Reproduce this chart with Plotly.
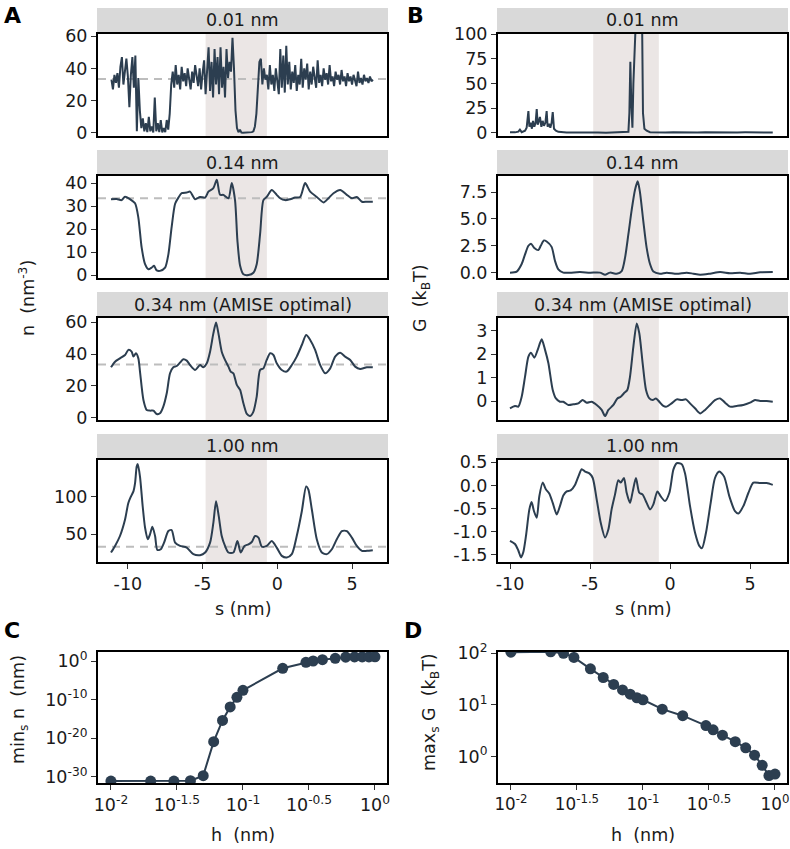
import plotly.graph_objects as go

# ---------------- data ----------------
H_LABELS = ["0.01 nm", "0.14 nm", "0.34 nm (AMISE optimal)", "1.00 nm"]
N_BULK = 33.4
BAND = [-4.8, -0.7]

S_A1 = [-11.1, -11.0, -10.9, -10.8, -10.7, -10.6, -10.5, -10.4, -10.3, -10.2,
        -10.1, -10.0, -9.9, -9.8, -9.7, -9.6, -9.5, -9.4, -9.3, -9.2,
        -9.1, -9.0, -8.9, -8.8, -8.7, -8.6, -8.5, -8.4, -8.3, -8.2,
        -8.1, -8.0, -7.9, -7.8, -7.7, -7.6, -7.5, -7.4, -7.3, -7.2,
        -7.1, -7.0, -6.9, -6.8, -6.7, -6.6, -6.5, -6.4, -6.3, -6.2,
        -6.1, -6.0, -5.9, -5.8, -5.7, -5.6, -5.5, -5.4, -5.3, -5.2,
        -5.1, -5.0, -4.9, -4.8, -4.7, -4.6, -4.5, -4.4, -4.3, -4.2,
        -4.1, -4.0, -3.9, -3.8, -3.7, -3.6, -3.5, -3.4, -3.3, -3.2,
        -3.1, -3.0, -2.9, -2.8, -2.7, -2.6, -2.5, -2.4, -2.3, -2.2,
        -2.1, -2.0, -1.9, -1.8, -1.7, -1.6, -1.5, -1.4, -1.3, -1.2,
        -1.1, -1.0, -0.9, -0.8, -0.7, -0.6, -0.5, -0.4, -0.3, -0.2,
        -0.1, 0.0, 0.1, 0.2, 0.3, 0.4, 0.5, 0.6, 0.7, 0.8,
        0.9, 1.0, 1.1, 1.2, 1.3, 1.4, 1.5, 1.6, 1.7, 1.8,
        1.9, 2.0, 2.1, 2.2, 2.3, 2.4, 2.5, 2.6, 2.7, 2.8,
        2.9, 3.0, 3.1, 3.2, 3.3, 3.4, 3.5, 3.6, 3.7, 3.8,
        3.9, 4.0, 4.1, 4.2, 4.3, 4.4, 4.5, 4.6, 4.7, 4.8,
        4.9, 5.0, 5.1, 5.2, 5.3, 5.4, 5.5, 5.6, 5.7, 5.8,
        5.9, 6.0, 6.1, 6.2, 6.3, 6.4]
N_A1 = [33, 27, 36, 31, 37, 28, 41, 47, 30, 38,
        46, 35, 16, 36, 47, 28, 48, 1, 34, 14,
        3, 9, 1, 6, 0.5, 10, 1, 4, 0.3, 22,
        1, 6, 0.5, 8, 0.3, 3, 0.5, 8, 2, 12,
        30, 38, 28, 42, 30, 36, 27, 41, 32, 37,
        29, 40, 33, 27, 38, 31, 42, 34, 29, 40,
        27, 37, 45, 24, 39, 53, 26, 44, 22, 52,
        30, 47, 24, 53, 28, 41, 22, 52, 34, 44,
        38, 59, 40, 14, 3, 0.5, 2, 0.2, 0.1, 0.1,
        0.1, 0.1, 0.1, 0.1, 0.5, 1, 4, 12, 28, 44,
        46, 30, 40, 33, 36, 27, 42, 30, 36, 26,
        40, 32, 24, 52, 28, 48, 25, 54, 30, 44,
        27, 38, 31, 42, 26, 36, 30, 46, 28, 40,
        33, 43, 27, 38, 30, 41, 33, 28, 45, 31,
        36, 29, 40, 33, 37, 30, 42, 32, 35, 29,
        38, 33, 36, 30, 39, 32, 35, 29, 37, 32,
        35, 30, 36, 33, 29, 38, 31, 34, 30, 36,
        32, 34, 31, 35, 32, 33]

S_A2 = [-11.13, -10.75, -10.42, -10.19, -9.86, -9.52, -9.30, -9.08, -8.85, -8.63,
        -8.41, -8.25, -8.07, -7.85, -7.51, -7.29, -7.07, -6.84, -6.62, -6.40,
        -6.06, -5.84, -5.50, -5.17, -4.83, -4.61, -4.28, -4.05, -3.83, -3.61,
        -3.27, -3.05, -2.83, -2.67, -2.49, -2.27, -1.93, -1.60, -1.38, -1.15,
        -0.93, -0.71, -0.37, -0.04, 0.19, 0.52, 0.86, 1.19, 1.53, 1.86,
        2.20, 2.64, 3.09, 3.42, 3.76, 4.21, 4.65, 4.99, 5.32, 5.66,
        5.99, 6.39]
N_A2 = [33, 33.1, 32.6, 34.1, 33, 31.2, 25, 12, 4.7, 2.5,
        3.2, 4, 2, 1.8, 3.2, 9, 21, 31, 33.7, 35.6,
        35.9, 36.3, 33, 34, 33.7, 36.3, 37.8, 41.5, 34.9, 34.9,
        33.4, 40, 32.6, 15, 4, 0.3, 0, 1, 4.7, 18,
        32.6, 34, 37, 34.9, 33.4, 32.6, 33, 33.7, 34, 40,
        36.3, 34, 31.6, 33.4, 35.6, 37, 34.9, 33.4, 34, 31.9,
        31.9, 31.9]

S_A3 = [-11.13, -10.86, -10.53, -10.19, -9.97, -9.75, -9.63, -9.46, -9.30, -9.19,
        -8.96, -8.74, -8.52, -8.29, -8.07, -7.85, -7.63, -7.40, -7.18, -6.96,
        -6.73, -6.51, -6.29, -6.06, -5.84, -5.50, -5.17, -4.95, -4.72, -4.50,
        -4.28, -4.10, -3.94, -3.72, -3.50, -3.27, -3.12, -2.94, -2.71, -2.49,
        -2.27, -2.04, -1.82, -1.60, -1.38, -1.15, -0.93, -0.71, -0.48, -0.26,
        -0.04, 0.30, 0.63, 0.97, 1.30, 1.64, 1.93, 2.20, 2.53, 2.87,
        3.20, 3.54, 3.87, 4.21, 4.54, 4.88, 5.21, 5.54, 5.99, 6.39]
N_A3 = [31.7, 35.2, 37.3, 39.4, 42.6, 41.5, 38.4, 40.5, 37.3, 29,
        11.1, 4.8, 4.4, 4.4, 2.3, 2.7, 6.9, 15.3, 27.9, 31.7,
        32.5, 34.6, 36.7, 35.9, 33.1, 30, 33.1, 31.7, 34.2, 41.5,
        53, 59.8, 53, 41.5, 36.3, 32.1, 29, 27.9, 20.6, 17.4,
        9, 2.3, 1, 3.8, 13.2, 30, 31, 36.3, 40.5, 39.4,
        34.2, 30, 29, 33.1, 38.4, 45.7, 52, 48.9, 42.6, 33.1,
        27.9, 31, 38.4, 40.9, 38.4, 36.3, 32.1, 30.6, 31.7, 31.7]

S_A4 = [-11.13, -10.86, -10.53, -10.19, -9.97, -9.79, -9.63, -9.52, -9.41, -9.34,
        -9.19, -9.01, -8.85, -8.67, -8.52, -8.36, -8.18, -8.03, -7.80, -7.58,
        -7.29, -7.07, -6.84, -6.51, -6.06, -5.62, -5.17, -4.83, -4.50, -4.28,
        -4.10, -3.92, -3.72, -3.50, -3.27, -2.94, -2.67, -2.45, -2.20, -1.93,
        -1.71, -1.49, -1.26, -1.04, -0.71, -0.37, -0.04, 0.30, 0.63, 0.97,
        1.30, 1.64, 1.93, 2.08, 2.31, 2.64, 2.98, 3.31, 3.65, 3.98,
        4.32, 4.65, 4.99, 5.32, 5.66, 5.99, 6.39]
N_A4 = [25.7, 34.5, 47.8, 69.9, 92, 100.9, 107.5, 118.6, 140.7, 144.2,
        127.4, 87.6, 58.8, 43.4, 50, 60.2, 47.8, 29.2, 30.1, 38.9,
        54.4, 55.8, 38.9, 34.5, 32.3, 23.5, 22.1, 25.7, 38.9, 65.5,
        94.2, 74.3, 47.8, 34.5, 25.7, 25.7, 41.2, 25.7, 34.5, 36.7,
        39.8, 47.8, 45.6, 33.6, 34.5, 41.2, 32.3, 21.2, 19, 23.5,
        47.8, 81, 114.2, 109.7, 83.2, 43.4, 25.7, 23.5, 30.1, 43.4,
        54.4, 54.4, 45.6, 34.5, 27.9, 27.9, 28.8]

S_B1 = [-10.0, -9.69, -9.48, -9.38, -9.27, -9.06, -8.96, -8.85, -8.79, -8.71,
        -8.63, -8.56, -8.48, -8.40, -8.33, -8.27, -8.19, -8.13, -8.04, -7.96,
        -7.88, -7.79, -7.71, -7.65, -7.56, -7.48, -7.40, -7.33, -7.25, -7.13,
        -6.98, -6.77, -6.46, -6.0, -5.5, -5.0, -4.5, -4.0, -3.5, -3.0,
        -2.70, -2.60, -2.54, -2.48, -2.42, -2.35, -2.29, -2.23, -1.98, -1.75,
        -1.69, -1.60, -1.46, -1.25, -0.8, -0.3, 0.2, 0.7, 1.2, 1.7,
        2.2, 2.7, 3.2, 3.7, 4.2, 4.7, 5.2, 5.7, 6.2, 6.42]
G_B1 = [0.5, 0.3, 1, 3, 0.5, 2, 5, 22, 6, 10,
        4, 12, 6, 10, 24, 8, 12, 16, 6, 12,
        7, 10, 22, 6, 9, 5, 10, 21, 4, 2,
        0.8, 0.3, 0.2, 0.1, 0.3, 0.1, 0.2, 0, 0.2, 0.3,
        0.5, 1, 20, 72, 30, 5, 50, 120, 180, 120,
        20, 4, 2, 0.5, 0.2, 0.1, 0.3, 0, 0.2, 0.1,
        0.3, 0.1, 0.2, 0, 0.2, 0.3, 0.1, 0.2, 0.1, 0.2]

S_B2 = [-10.0, -9.58, -9.27, -9.06, -8.85, -8.69, -8.48, -8.23, -8.08, -7.88,
        -7.71, -7.40, -7.19, -6.98, -6.67, -6.25, -5.63, -5.0, -4.38, -4.06,
        -3.75, -3.33, -3.02, -2.81, -2.60, -2.40, -2.19, -2.02, -1.88, -1.67,
        -1.46, -1.25, -1.04, -0.63, -0.21, 0.42, 1.04, 1.46, 1.88, 2.5,
        3.13, 3.75, 4.38, 5.0, 5.63, 6.42]
G_B2 = [0, 0.1, 0.8, 1.7, 2.5, 2.7, 2.3, 2.1, 2.5, 3.0,
        2.9, 2.4, 1.1, 0.3, 0, 0, 0.05, 0, 0, -0.2,
        0, -0.1, 0.15, 1.4, 3.6, 5.8, 7.7, 8.5, 7.5, 4.8,
        2.3, 0.8, 0.1, -0.1, 0, -0.1, 0, -0.1, -0.2, -0.1,
        0.05, -0.05, 0, -0.1, 0.03, 0.05]

S_B3 = [-10.0, -9.69, -9.48, -9.27, -9.06, -8.85, -8.69, -8.48, -8.27, -8.02,
        -7.81, -7.60, -7.33, -7.13, -6.88, -6.67, -6.35, -6.04, -5.73, -5.46,
        -5.21, -4.90, -4.58, -4.27, -4.06, -3.85, -3.54, -3.29, -3.08, -2.88,
        -2.67, -2.50, -2.29, -2.08, -1.92, -1.71, -1.50, -1.29, -1.08, -0.88,
        -0.67, -0.42, -0.21, 0.10, 0.42, 0.73, 1.0, 1.25, 1.56, 1.88,
        2.19, 2.5, 2.81, 3.13, 3.44, 3.75, 4.17, 4.58, 5.0, 5.31,
        5.63, 6.04, 6.42]
G_B3 = [-0.31, -0.21, -0.24, 0.18, 1.04, 1.89, 2.06, 1.85, 2.18, 2.63,
        2.18, 1.61, 0.47, 0.11, -0.03, -0.03, -0.17, -0.14, -0.1, 0.04,
        -0.07, -0.03, -0.17, -0.38, -0.64, -0.38, -0.17, 0.11, 0.18, 0.33,
        0.47, 1.04, 2.32, 3.31, 2.89, 1.61, 0.47, 0.11, 0.04, 0.11,
        -0.03, -0.21, -0.24, -0.1, 0.07, 0.04, 0.07, -0.1, -0.31, -0.53,
        -0.38, -0.17, 0.04, 0.11, -0.07, -0.24, -0.21, -0.17, -0.07, 0.04,
        0, 0, -0.03]

S_B4 = [-10.0, -9.69, -9.48, -9.31, -9.17, -9.0, -8.79, -8.65, -8.5, -8.33,
        -8.17, -7.96, -7.75, -7.54, -7.33, -7.08, -6.88, -6.67, -6.46, -6.21,
        -5.94, -5.73, -5.52, -5.31, -5.04, -4.83, -4.58, -4.33, -4.06, -3.85,
        -3.65, -3.44, -3.23, -3.08, -2.88, -2.71, -2.5, -2.33, -2.13, -1.92,
        -1.71, -1.46, -1.25, -1.04, -0.79, -0.58, -0.31, -0.04, 0.21, 0.42,
        0.73, 0.94, 1.25, 1.56, 1.83, 2.0, 2.25, 2.54, 2.81, 3.08,
        3.38, 3.71, 4.06, 4.27, 4.58, 4.9, 5.21, 5.63, 6.04, 6.42]
G_B4 = [-1.2, -1.27, -1.41, -1.56, -1.45, -1.09, -0.52, -0.36, -0.56, -0.7,
        -0.24, 0.06, -0.09, -0.18, -0.38, -0.63, -0.45, -0.22, -0.13, -0.11,
        0.01, 0.19, 0.35, 0.3, 0.26, 0.16, -0.31, -0.81, -1.13, -0.95,
        -0.52, -0.2, 0.11, 0.06, 0.16, -0.16, -0.38, -0.13, 0.16, -0.16,
        -0.2, -0.38, -0.52, -0.41, -0.13, -0.24, -0.34, -0.16, 0.34, 0.48,
        0.46, 0.26, -0.45, -1.02, -1.31, -1.36, -1.02, -0.38, 0.16, 0.3,
        0.19, -0.24, -0.56, -0.61, -0.45, -0.16, 0.06, 0.05, 0.05, 0.01]

H_C = [0.01, 0.02, 0.03, 0.04, 0.05, 0.06, 0.07, 0.08, 0.09, 0.1,
       0.2, 0.3, 0.34, 0.4, 0.5, 0.6, 0.7, 0.8, 0.9, 1.0]
MIN_N = [8e-32, 8e-32, 8e-32, 1e-31, 2e-30, 1.3e-21, 4e-16, 1.3e-12, 4e-10, 2.5e-8,
         1.3e-2, 0.46, 1.0, 2.2, 4.9, 10, 11, 11, 11.5, 12]

H_D = [0.01, 0.02, 0.025, 0.03, 0.04, 0.05, 0.06, 0.07, 0.08, 0.09, 0.1,
       0.14, 0.2, 0.3, 0.34, 0.4, 0.5, 0.6, 0.7, 0.8, 0.9, 1.0]
MAX_G = [105, 107, 100, 83, 50, 34, 25, 19.5, 16.2, 13.8, 12.6,
         8.3, 6.2, 4.0, 3.3, 2.6, 1.95, 1.48, 1.07, 0.68, 0.43, 0.46]

N_TICKS = [[0, 20, 40, 60], [0, 10, 20, 30, 40], [0, 20, 40, 60], [50, 100]]
G_TICKS = [[0, 25, 50, 75, 100], [0.0, 2.5, 5.0, 7.5], [0, 1, 2, 3], [-1.5, -1.0, -0.5, 0.0, 0.5]]
G_TICKTEXT = [["0", "25", "50", "75", "100"], ["0.0", "2.5", "5.0", "7.5"], ["0", "1", "2", "3"],
              ["-1.5", "-1.0", "-0.5", "0.0", "0.5"]]
S_TICKS = [-10, -5, 0, 5]
S_TICKTEXT = ["-10", "-5", "0", "5"]

# ---------------- styling / layout ----------------
W, H = 790, 849
FONT = "DejaVu Sans"
FS = 17.5
LINE = "#2c3e50"
STRIP = "#d9d9d9"
BANDC = "#ebe6e5"
TXT = "#1a1a1a"

COLS = [(98, 387), (498, 787)]
ROWS = [(34, 136), (176, 278), (318, 420), (460, 562)]
BOTTOM = (652, 783)
STRIP_H = 26

N_RANGES = [[-1.9, 61.3], [-1.3, 43.1], [-1.5, 62.7], [13, 149.5]]
G_RANGES = [[-3.4, 100.3], [-0.5, 9.0], [-0.81, 3.54], [-1.66, 0.55]]
X_RANGES = [[-12.0, 7.34], [-10.75, 7.31]]


def xd(a, b):
    return [a / W, b / W]


def yd(top, bot):
    return [1 - bot / H, 1 - top / H]


def px_x(x):
    return x / W


def px_y(y):
    return 1 - y / H


def axis(**kw):
    d = dict(showline=True, mirror=True, linecolor="black", linewidth=2,
             showgrid=False, zeroline=False, ticks="outside", ticklen=5,
             tickwidth=1, tickcolor="#333333", automargin=False,
             tickfont=dict(family=FONT, size=FS, color=TXT), fixedrange=True)
    d.update(kw)
    return d


fig = go.Figure()
layout = dict(width=W, height=H, margin=dict(l=0, r=0, t=0, b=0, autoexpand=False),
              paper_bgcolor="white", plot_bgcolor="white", showlegend=False,
              font=dict(family=FONT, size=FS, color=TXT))
shapes = []
annotations = []

profiles_n = [(S_A1, N_A1), (S_A2, N_A2), (S_A3, N_A3), (S_A4, N_A4)]
profiles_g = [(S_B1, G_B1), (S_B2, G_B2), (S_B3, G_B3), (S_B4, G_B4)]

for r in range(4):
    for c in range(2):
        k = r * 2 + c + 1
        xn = "x" if k == 1 else f"x{k}"
        yn = "y" if k == 1 else f"y{k}"
        xa = "xaxis" if k == 1 else f"xaxis{k}"
        ya = "yaxis" if k == 1 else f"yaxis{k}"
        s, v = (profiles_n if c == 0 else profiles_g)[r]
        noisy = (r == 0)
        fig.add_trace(go.Scatter(
            x=s, y=v, mode="lines", xaxis=xn, yaxis=yn,
            line=dict(color=LINE, width=2,
                      shape="linear" if noisy else "spline",
                      smoothing=0.7 if not noisy else None),
            hoverinfo="skip"))
        last = (r == 3)
        layout[xa] = axis(domain=xd(*COLS[c]), range=X_RANGES[c], anchor=yn,
                          tickvals=S_TICKS, ticktext=S_TICKTEXT,
                          ticks="outside" if last else "", showticklabels=last)
        if c == 0:
            layout[ya] = axis(domain=yd(*ROWS[r]), range=N_RANGES[r], anchor=xn,
                              tickvals=N_TICKS[r], ticktext=[str(t) for t in N_TICKS[r]])
        else:
            layout[ya] = axis(domain=yd(*ROWS[r]), range=G_RANGES[r], anchor=xn,
                              tickvals=G_TICKS[r], ticktext=G_TICKTEXT[r])
        # shaded band
        shapes.append(dict(type="rect", xref=xn, yref=f"{yn} domain",
                           x0=BAND[0], x1=BAND[1], y0=0, y1=1,
                           fillcolor=BANDC, line=dict(width=0), layer="below"))
        if c == 0:
            shapes.append(dict(type="line", xref=f"{xn} domain", yref=yn,
                               x0=0, x1=1, y0=N_BULK, y1=N_BULK,
                               line=dict(color="#bdbdbd", width=2, dash="8px,6px"),
                               layer="below"))
        # strip
        top = ROWS[r][0]
        shapes.append(dict(type="rect", xref="paper", yref="paper",
                           x0=px_x(COLS[c][0] - 1), x1=px_x(COLS[c][1] + 1),
                           y0=px_y(top), y1=px_y(top - STRIP_H),
                           fillcolor=STRIP, line=dict(width=0), layer="below"))
        annotations.append(dict(text=H_LABELS[r], xref="paper", yref="paper",
                                x=px_x((COLS[c][0] + COLS[c][1]) / 2),
                                y=px_y(top - STRIP_H / 2 - 0.5),
                                xanchor="center", yanchor="middle", showarrow=False,
                                font=dict(family=FONT, size=FS, color=TXT)))

# log panels
LOG_XT = [0.01, 10 ** -1.5, 0.1, 10 ** -0.5, 1]
LOG_XTT = ["10<sup>-2</sup>", "10<sup>-1.5</sup>", "10<sup>-1</sup>",
           "10<sup>-0.5</sup>", "10<sup>0</sup>"]

fig.add_trace(go.Scatter(x=H_C, y=MIN_N, mode="lines+markers", xaxis="x9", yaxis="y9",
                         line=dict(color=LINE, width=2),
                         marker=dict(color=LINE, size=11), hoverinfo="skip"))
fig.add_trace(go.Scatter(x=H_D, y=MAX_G, mode="lines+markers", xaxis="x10", yaxis="y10",
                         line=dict(color=LINE, width=2),
                         marker=dict(color=LINE, size=11), hoverinfo="skip"))

layout["xaxis9"] = axis(domain=xd(*COLS[0]), type="log", range=[-2.098, 0.091], anchor="y9",
                        tickvals=LOG_XT, ticktext=LOG_XTT)
layout["yaxis9"] = axis(domain=yd(*BOTTOM), type="log", range=[-31.6, 2.33], anchor="x9",
                        tickvals=[1e-30, 1e-20, 1e-10, 1],
                        ticktext=["10<sup>-30</sup>", "10<sup>-20</sup>",
                                  "10<sup>-10</sup>", "10<sup>0</sup>"])
layout["xaxis10"] = axis(domain=xd(*COLS[1]), type="log", range=[-2.098, 0.091], anchor="y10",
                         tickvals=LOG_XT, ticktext=LOG_XTT,
                         tickfont=dict(family=FONT, size=16.8, color=TXT))
layout["yaxis10"] = axis(domain=yd(*BOTTOM), type="log", range=[-0.51, 2.025], anchor="x10",
                         tickvals=[1, 10, 100],
                         ticktext=["10<sup>0</sup>", "10<sup>1</sup>", "10<sup>2</sup>"])


def ann(text, x, y, size=FS, angle=0, bold=False):
    annotations.append(dict(text=f"<b>{text}</b>" if bold else text,
                            xref="paper", yref="paper", x=px_x(x), y=px_y(y),
                            xanchor="center", yanchor="middle", showarrow=False,
                            textangle=angle,
                            font=dict(family=FONT, size=size, color="black" if bold else TXT)))


# panel letters
ann("A", 12, 15, size=22, bold=True)
ann("B", 415, 15, size=22, bold=True)
ann("C", 12, 630, size=22, bold=True)
ann("D", 413, 630, size=22, bold=True)

# axis titles
ann("n  (nm<sup>-3</sup>)", 27, 298, angle=-90)
ann("G  (k<sub>B</sub>T)", 421, 298, angle=-90)
ann("s (nm)", 242.5, 609)
ann("s (nm)", 642.5, 609)
ann("min<sub>s</sub> n  (nm)", 19, 710, angle=-90)
ann("max<sub>s</sub> G  (k<sub>B</sub>T)", 430, 712, angle=-90)
ann("h  (nm)", 242.5, 835)
ann("h  (nm)", 642.5, 835)

layout["shapes"] = shapes
layout["annotations"] = annotations
fig.update_layout(**layout)

fig.write_html("out.html",
               config={"displayModeBar": False, "staticPlot": True},
               post_script="document.body.style.margin='0';"
                           "document.body.style.padding='0';"
                           "document.body.style.overflow='hidden';")
